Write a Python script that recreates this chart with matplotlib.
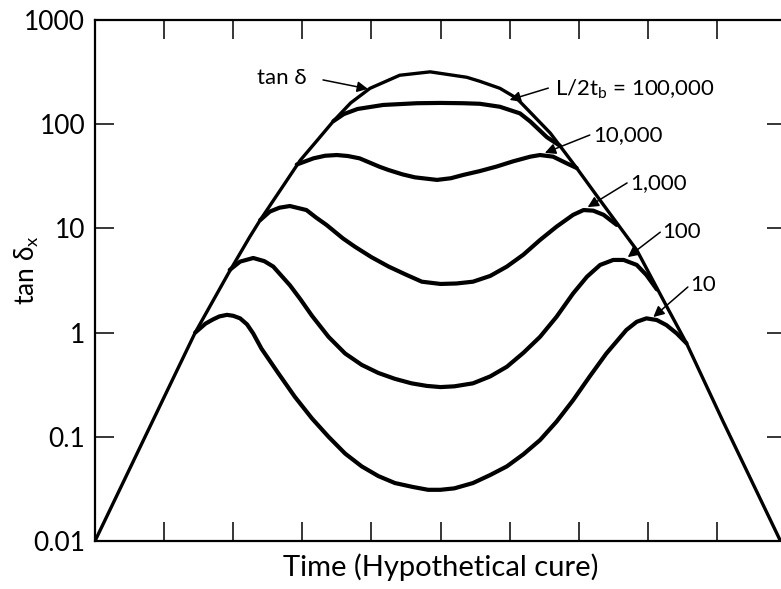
import matplotlib
matplotlib.use('Agg')
import matplotlib.pyplot as plt
from matplotlib.ticker import FixedLocator, NullLocator

plt.rcParams['font.family'] = ['Lato', 'DejaVu Sans']
plt.rcParams['mathtext.fontset'] = 'custom'
plt.rcParams['mathtext.rm'] = 'Lato'
plt.rcParams['mathtext.default'] = 'regular'

# tan delta envelope
env_x = [0, 0.5, 1.0, 1.45, 1.93, 2.24, 2.39, 2.53, 2.73, 2.97, 3.2, 3.45, 3.7,
         3.98, 4.41, 4.85, 5.38, 5.57, 5.86, 6.1, 6.35, 6.59, 6.97, 7.31, 7.84,
         8.27, 8.56, 9.09, 9.92]
env_y = [0.01, 0.049, 0.24, 1.0, 3.7, 8.3, 12, 16.5, 26, 45, 68, 107, 160,
         221, 295, 318, 282, 258, 221, 178, 120, 82, 38, 18.6, 6.2,
         1.8, 0.79, 0.14, 0.01]

# L/2tb = 10
c10_x = [1.45, 1.6, 1.71, 1.8, 1.91, 2.0, 2.1, 2.2, 2.29, 2.41, 2.65, 2.89, 3.14,
         3.38, 3.62, 3.86, 4.1, 4.34, 4.6, 4.82, 5.0, 5.2, 5.47, 5.72, 5.96, 6.2,
         6.44, 6.68, 6.92, 7.16, 7.4, 7.69, 7.84, 7.98, 8.13, 8.27, 8.42, 8.56]
c10_y = [1.0, 1.22, 1.34, 1.43, 1.48, 1.45, 1.37, 1.2, 0.98, 0.70, 0.41, 0.243, 0.15,
         0.10, 0.069, 0.052, 0.042, 0.036, 0.033, 0.031, 0.031, 0.032, 0.036, 0.043, 0.052,
         0.068, 0.093, 0.14, 0.225, 0.38, 0.63, 1.06, 1.27, 1.37, 1.32, 1.18, 0.98, 0.79]

# L/2tb = 100
c100_x = [1.95, 2.1, 2.29, 2.45, 2.58, 2.7, 2.82, 2.97, 3.14, 3.38, 3.62, 3.86,
          4.1, 4.34, 4.58, 4.8, 5.0, 5.2, 5.47, 5.72, 5.96, 6.2, 6.44, 6.68,
          6.92, 7.12, 7.31, 7.5, 7.65, 7.84, 7.98, 8.13]
c100_y = [4.0, 4.8, 5.2, 4.85, 4.3, 3.5, 2.85, 2.1, 1.45, 0.91, 0.63, 0.49,
          0.41, 0.36, 0.326, 0.308, 0.30, 0.305, 0.326, 0.38, 0.47, 0.64, 0.91, 1.42,
          2.38, 3.44, 4.46, 4.98, 4.98, 4.46, 3.57, 2.6]

# L/2tb = 1,000
c1k_x = [2.39, 2.53, 2.67, 2.82, 3.06, 3.2, 3.35, 3.59, 3.76, 4.0, 4.25, 4.5,
         4.73, 5.0, 5.23, 5.47, 5.72, 5.96, 6.2, 6.44, 6.68, 6.92, 7.07, 7.21,
         7.36, 7.55]
c1k_y = [12, 14.5, 15.8, 16.4, 15.0, 12.7, 10.8, 8.0, 6.68, 5.3, 4.3, 3.6,
         3.08, 2.93, 2.96, 3.08, 3.5, 4.3, 5.6, 7.74, 10.4, 13.5, 15.0, 14.8,
         13.5, 10.8]

# L/2tb = 10,000
c10k_x = [2.92, 3.16, 3.33, 3.5, 3.66, 3.83, 4.12, 4.25, 4.45, 4.63, 4.95, 5.15,
          5.33, 5.57, 5.81, 6.05, 6.3, 6.44, 6.63, 6.83, 6.97]
c10k_y = [41, 47, 49.8, 50.6, 49.5, 47, 39, 36.3, 33, 30.9, 29.2, 30.3,
          32.6, 35.5, 39.2, 44, 48.8, 50.6, 48.8, 42, 38]

# L/2tb = 100,000
c100k_x = [3.45, 3.6, 3.8, 4.17, 4.66, 5.0, 5.33, 5.57, 5.86, 6.15, 6.3, 6.54, 6.73]
c100k_y = [107, 125, 140, 153, 159, 160, 159, 157, 147, 127, 106, 75, 62]

y_ticks = [0.01, 0.1, 1, 10, 100, 1000]
y_labels = ['0.01', '0.1', '1', '10', '100', '1000']
x_ticks = [1, 2, 3, 4, 5, 6, 7, 8, 9]

# label text, text anchor, arrow start, arrow tip
labels = [
    ('tan δ', (2.34, 277), (3.3, 266), (3.95, 218)),
    ('L/2t$_b$ = 100,000', (6.66, 218), (6.56, 222), (6.0, 171)),
    ('10,000', (7.21, 78.7), (7.16, 78.7), (6.51, 53)),
    ('1,000', (7.74, 27.3), (7.70, 27.3), (7.13, 16.0)),
    ('100', (8.21, 9.2), (8.18, 9.2), (7.71, 5.3)),
    ('10', (8.61, 2.87), (8.58, 2.74), (8.08, 1.41)),
]

fig = plt.figure(figsize=(7.81, 5.89), dpi=100)
ax = fig.add_axes([95 / 781, 48 / 589, 691 / 781, 521 / 589])
ax.set_yscale('log')
ax.set_xlim(0, 10)
ax.set_ylim(0.01, 1000)

ax.plot(env_x, env_y, color='black', lw=2.4, solid_joinstyle='round', solid_capstyle='round')
for cx, cy in [(c10_x, c10_y), (c100_x, c100_y), (c1k_x, c1k_y),
               (c10k_x, c10k_y), (c100k_x, c100k_y)]:
    ax.plot(cx, cy, color='black', lw=3.0, solid_joinstyle='round', solid_capstyle='round')

for text, pos, start, tip in labels:
    ax.text(pos[0], pos[1], text, fontsize=16, ha='left', va='center')
    ax.annotate('', xy=tip, xytext=start,
                arrowprops=dict(arrowstyle='-|>', color='black', lw=1.1,
                                mutation_scale=16, shrinkA=0, shrinkB=0))

ax.xaxis.set_major_locator(FixedLocator(x_ticks))
ax.xaxis.set_minor_locator(NullLocator())
ax.yaxis.set_major_locator(FixedLocator(y_ticks))
ax.yaxis.set_minor_locator(NullLocator())
ax.set_yticklabels(y_labels)
ax.set_xticklabels([])
ax.tick_params(axis='both', which='major', direction='in', length=14, width=1.1,
               top=True, right=True, labelsize=19, pad=7)
for s in ax.spines.values():
    s.set_linewidth(1.6)

ax.set_xlabel('Time (Hypothetical cure)', fontsize=21, labelpad=2)
ax.set_ylabel('tan δ$_x$', fontsize=19)
ax.yaxis.set_label_coords(-0.078, 0.52)

fig.savefig('out.png', dpi=100)
